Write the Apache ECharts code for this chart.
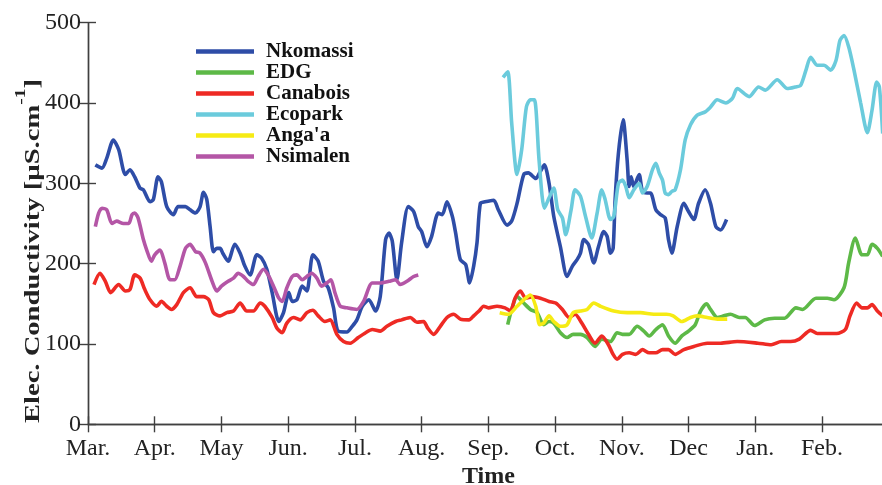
<!DOCTYPE html>
<html>
<head>
<meta charset="utf-8">
<script src="https://cdn.jsdelivr.net/npm/echarts@6/dist/echarts.min.js"></script>
<style>
  html, body { margin: 0; padding: 0; background: #ffffff; overflow: hidden; }
  #chart { width: 882px; height: 485px; }
</style>
</head>
<body>
<div id="chart"></div>
<script>
// x values are months since 1 March (0 = Mar., 11 = Feb.)
var monthLabels = ['Mar.', 'Apr.', 'May', 'Jun.', 'Jul.', 'Aug.', 'Sep.', 'Oct.', 'Nov.', 'Dec', 'Jan.', 'Feb.'];
var yTicks = [0, 100, 200, 300, 400, 500];
var seriesNames = ['Nkomassi', 'EDG', 'Canabois', 'Ecopark', "Anga'a", 'Nsimalen'];

var nkomassi = [
  [0.11,323],[0.21,319],[0.28,331],[0.38,354],[0.46,342],[0.56,311],[0.63,317],[0.70,308],[0.78,294],[0.83,292],
  [0.93,277],[0.98,280],[1.05,308],[1.10,302],[1.18,271],[1.28,261],[1.35,271],[1.46,271],[1.53,267],[1.61,263],
  [1.68,271],[1.73,289],[1.78,280],[1.83,246],[1.88,215],[1.93,219],[1.98,219],[2.02,213],[2.10,203],[2.20,224],
  [2.28,213],[2.35,197],[2.43,186],[2.53,211],[2.60,207],[2.68,193],[2.76,164],[2.86,128],[2.93,139],[3.01,164],
  [3.06,153],[3.13,155],[3.21,172],[3.28,166],[3.37,211],[3.45,203],[3.53,178],[3.60,170],[3.68,145],[3.75,116],
  [3.88,115],[3.96,122],[4.03,130],[4.11,147],[4.21,155],[4.31,141],[4.38,159],[4.46,230],[4.51,238],[4.56,228],
  [4.63,180],[4.70,226],[4.80,271],[4.88,265],[4.95,246],[5.00,240],[5.08,221],[5.15,234],[5.25,263],[5.31,261],
  [5.38,277],[5.46,259],[5.51,238],[5.58,205],[5.66,199],[5.72,176],[5.78,197],[5.83,226],[5.88,275],[5.95,277],
  [6.08,279],[6.15,267],[6.28,248],[6.35,253],[6.43,275],[6.53,311],[6.60,313],[6.71,306],[6.78,315],[6.84,323],
  [6.91,300],[6.98,259],[7.08,221],[7.18,184],[7.26,197],[7.33,205],[7.38,213],[7.43,230],[7.50,224],[7.58,201],
  [7.65,221],[7.73,240],[7.78,234],[7.83,213],[7.87,219],[7.90,280],[7.95,338],[8.02,379],[8.08,329],[8.11,296],
  [8.14,308],[8.18,296],[8.26,311],[8.31,290],[8.38,288],[8.43,288],[8.51,267],[8.58,261],[8.65,257],[8.70,230],
  [8.75,213],[8.83,246],[8.93,275],[9.00,265],[9.08,255],[9.15,275],[9.25,292],[9.33,275],[9.41,246],[9.48,242],
  [9.57,255]
];
var edg = [
  [6.29,124],[6.35,143],[6.43,159],[6.53,151],[6.63,143],[6.73,139],[6.83,124],[6.91,128],[6.98,126],[7.08,114],
  [7.18,108],[7.27,112],[7.38,112],[7.48,108],[7.60,97],[7.70,106],[7.83,103],[7.93,114],[8.01,112],[8.11,112],
  [8.23,122],[8.33,116],[8.41,110],[8.51,118],[8.61,124],[8.70,110],[8.80,101],[8.90,110],[9.00,116],[9.10,124],
  [9.18,141],[9.27,150],[9.33,143],[9.43,133],[9.53,135],[9.63,137],[9.76,133],[9.85,133],[9.99,123],[10.14,130],
  [10.29,132],[10.44,132],[10.61,145],[10.71,143],[10.91,157],[11.08,157],[11.18,155],[11.33,170],[11.40,201],[11.50,232],
  [11.60,211],[11.68,211],[11.75,224],[11.83,219],[11.91,209]
];
var canabois = [
  [0.09,174],[0.18,188],[0.26,178],[0.34,164],[0.46,174],[0.56,166],[0.63,168],[0.70,186],[0.78,182],[0.85,168],
  [0.93,155],[1.03,147],[1.10,153],[1.18,147],[1.25,143],[1.33,149],[1.43,164],[1.53,170],[1.63,159],[1.73,159],
  [1.81,155],[1.88,139],[1.98,135],[2.08,139],[2.18,141],[2.28,151],[2.38,141],[2.48,141],[2.58,151],[2.65,147],
  [2.76,133],[2.83,120],[2.91,114],[2.98,126],[3.08,133],[3.18,130],[3.28,139],[3.37,142],[3.45,135],[3.55,128],
  [3.63,130],[3.73,112],[3.83,103],[3.93,101],[4.05,108],[4.16,114],[4.26,118],[4.38,116],[4.48,122],[4.61,128],
  [4.70,130],[4.83,133],[4.93,127],[5.03,128],[5.09,120],[5.18,112],[5.28,122],[5.38,133],[5.48,137],[5.58,131],
  [5.71,130],[5.78,135],[5.86,141],[5.93,147],[6.00,145],[6.13,147],[6.25,145],[6.33,141],[6.40,157],[6.48,166],
  [6.56,157],[6.66,159],[6.78,157],[6.91,153],[7.01,151],[7.11,143],[7.21,133],[7.30,137],[7.40,126],[7.50,112],
  [7.60,101],[7.70,110],[7.80,99],[7.87,87],[7.93,81],[8.01,87],[8.11,89],[8.21,87],[8.31,93],[8.41,89],
  [8.51,89],[8.61,93],[8.70,93],[8.80,87],[8.93,93],[9.08,97],[9.28,101],[9.48,101],[9.73,103],[10.04,101],
  [10.24,99],[10.39,103],[10.53,103],[10.66,106],[10.83,117],[10.93,113],[11.08,113],[11.22,113],[11.35,118],[11.42,135],
  [11.52,151],[11.60,145],[11.68,145],[11.75,149],[11.83,141],[11.91,135]
];
var ecopark = [
  [6.22,432],[6.29,439],[6.35,375],[6.43,311],[6.50,342],[6.57,395],[6.63,404],[6.69,404],[6.76,329],[6.84,269],
  [6.91,282],[6.98,294],[7.04,267],[7.11,257],[7.16,236],[7.24,267],[7.30,292],[7.38,284],[7.45,261],[7.55,232],
  [7.63,263],[7.70,292],[7.75,280],[7.83,255],[7.88,259],[7.95,300],[8.01,304],[8.06,296],[8.11,282],[8.18,292],
  [8.26,300],[8.31,288],[8.38,296],[8.46,317],[8.51,325],[8.56,313],[8.61,304],[8.65,288],[8.70,286],[8.75,290],
  [8.80,292],[8.88,317],[8.95,354],[9.03,373],[9.13,385],[9.25,389],[9.33,395],[9.43,404],[9.56,400],[9.66,406],
  [9.73,418],[9.91,408],[10.05,420],[10.15,416],[10.33,429],[10.48,418],[10.60,420],[10.68,422],[10.76,441],[10.83,457],
  [10.93,447],[11.03,447],[11.13,441],[11.21,453],[11.27,478],[11.33,484],[11.40,470],[11.48,441],[11.58,400],[11.68,363],
  [11.75,391],[11.82,426],[11.86,420],[11.91,362]
];
var angaa = [
  [6.17,139],[6.30,137],[6.43,147],[6.53,155],[6.63,161],[6.71,147],[6.77,124],[6.83,126],[6.91,135],[6.98,128],
  [7.08,122],[7.18,124],[7.27,139],[7.38,141],[7.48,143],[7.58,151],[7.68,147],[7.88,141],[8.08,139],[8.28,139],
  [8.48,137],[8.67,137],[8.77,135],[8.90,128],[9.03,133],[9.13,135],[9.28,133],[9.43,131],[9.58,131]
];
var nsimalen = [
  [0.11,246],[0.16,263],[0.21,269],[0.28,267],[0.36,250],[0.43,253],[0.53,250],[0.61,250],[0.66,261],[0.70,263],
  [0.75,257],[0.83,230],[0.88,217],[0.95,203],[1.00,211],[1.08,217],[1.15,201],[1.23,180],[1.30,180],[1.38,197],
  [1.46,219],[1.53,224],[1.61,215],[1.68,213],[1.76,201],[1.86,178],[1.93,166],[2.00,172],[2.10,178],[2.18,182],
  [2.25,188],[2.33,184],[2.40,178],[2.48,174],[2.55,184],[2.63,193],[2.70,186],[2.78,172],[2.86,157],[2.91,153],
  [2.98,170],[3.06,184],[3.13,186],[3.21,180],[3.28,184],[3.35,188],[3.43,182],[3.50,172],[3.58,176],[3.64,180],
  [3.70,164],[3.78,147],[3.88,145],[4.03,143],[4.13,153],[4.26,176],[4.38,176],[4.51,178],[4.61,180],[4.68,174],
  [4.78,178],[4.88,184],[4.95,186]
];

var seriesData = [nkomassi, edg, canabois, ecopark, angaa, nsimalen];
var colors = ['#2E4DA7', '#5DB947', '#EE2A24', '#6BCBDC', '#F6EB14', '#B456A6'];

var FONT = "'Liberation Serif', 'Times New Roman', serif";
var AXIS_COLOR = '#404040';
var TEXT_COLOR = '#222222';

var chart = echarts.init(document.getElementById('chart'), null, { renderer: 'canvas' });

var series = seriesNames.map(function (name, i) {
  return {
    name: name,
    type: 'line',
    data: seriesData[i],
    showSymbol: false,
    smooth: 0.25,
    lineStyle: { width: 3.6, color: colors[i] },
    itemStyle: { color: colors[i] },
    xAxisIndex: 0,
    yAxisIndex: 0,
    z: 2 + i
  };
});

var option = {
  animation: false,
  backgroundColor: '#ffffff',
  grid: { left: 88, right: -6.7, top: 22.7, bottom: 60.7, containLabel: false, outerBoundsMode: 'none' },
  legend: {
    data: seriesNames,
    orient: 'vertical',
    left: 196,
    top: 41,
    padding: 0,
    icon: 'rect',
    itemWidth: 58,
    itemHeight: 4.5,
    itemGap: 0,
    textStyle: {
      fontFamily: FONT,
      fontWeight: 'bold',
      fontSize: 21,
      lineHeight: 20.6,
      color: '#111111',
      padding: [0, 0, 0, 7]
    }
  },
  xAxis: [
    {
      type: 'value',
      min: 0,
      max: 12,
      interval: 1,
      position: 'bottom',
      name: 'Time',
      nameLocation: 'middle',
      nameGap: 39,
      nameTextStyle: { fontFamily: FONT, fontWeight: 'bold', fontSize: 24, color: TEXT_COLOR },
      axisLine: { show: true, lineStyle: { color: AXIS_COLOR, width: 1.4 } },
      axisTick: { show: true, inside: true, length: 8, lineStyle: { color: AXIS_COLOR, width: 1.4 } },
      axisLabel: {
        show: true,
        margin: 12,
        fontFamily: FONT,
        fontSize: 24,
        color: TEXT_COLOR,
        showMaxLabel: false,
        formatter: function (v) {
          var k = Math.round(v);
          return monthLabels[k] !== undefined ? monthLabels[k] : '';
        }
      },
      splitLine: { show: false }
    },
    {
      type: 'value',
      min: 0,
      max: 12,
      interval: 1,
      position: 'top',
      axisLine: { show: true, lineStyle: { color: AXIS_COLOR, width: 1.4 } },
      axisTick: { show: true, inside: true, length: 8, lineStyle: { color: AXIS_COLOR, width: 1.4 } },
      axisLabel: { show: false },
      splitLine: { show: false }
    }
  ],
  yAxis: [
    {
      type: 'value',
      min: yTicks[0],
      max: yTicks[yTicks.length - 1],
      interval: 100,
      position: 'left',
      axisLine: { show: true, lineStyle: { color: AXIS_COLOR, width: 1.4 } },
      axisTick: { show: true, inside: true, length: 8, lineStyle: { color: AXIS_COLOR, width: 1.4 } },
      axisLabel: { margin: 7, fontFamily: FONT, fontSize: 24, color: TEXT_COLOR },
      splitLine: { show: false }
    },
    {
      type: 'value',
      min: yTicks[0],
      max: yTicks[yTicks.length - 1],
      interval: 100,
      position: 'right',
      axisLine: { show: true, lineStyle: { color: AXIS_COLOR, width: 1.4 } },
      axisTick: { show: true, inside: true, length: 8, lineStyle: { color: AXIS_COLOR, width: 1.4 } },
      axisLabel: { show: false },
      splitLine: { show: false }
    }
  ],
  graphic: [
    {
      type: 'text',
      x: 29,
      y: 251,
      rotation: Math.PI / 2,
      scaleX: 1.3,
      scaleY: 1,
      style: {
        text: '{m|Elec. Conductivity [µS.cm}{s|-1}{m|]}',
        textAlign: 'center',
        textVerticalAlign: 'middle',
        fill: TEXT_COLOR,
        rich: {
          m: { fontFamily: FONT, fontWeight: 'bold', fontSize: 22, lineHeight: 30, verticalAlign: 'bottom', fill: TEXT_COLOR, color: TEXT_COLOR },
          s: { fontFamily: FONT, fontWeight: 'bold', fontSize: 15, lineHeight: 15, verticalAlign: 'top', fill: TEXT_COLOR, color: TEXT_COLOR }
        }
      }
    }
  ],
  series: series
};

chart.setOption(option);
</script>
</body>
</html>
